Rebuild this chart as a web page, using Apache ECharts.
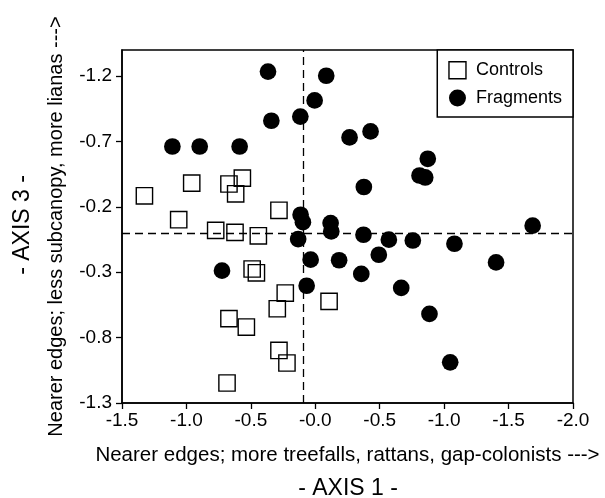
<!DOCTYPE html>
<html>
<head>
<meta charset="utf-8">
<script src="https://cdn.jsdelivr.net/npm/echarts@6/dist/echarts.min.js"></script>
<style>
  html, body { margin: 0; padding: 0; background: #fff; }
  #chart { width: 605px; height: 498px; }
</style>
</head>
<body>
<div id="chart"></div>
<script>
// ---- data ----
const categories = ['Controls', 'Fragments'];

const controlsX = [-1.326, -0.959, -0.670, -0.566, -0.618, -0.282, -1.060, -0.773, -0.623, -0.442,
                   -0.490, -0.457, -0.233, -0.295, -0.670, -0.535, -0.282, -0.220, -0.685, 0.107];
const controlsY = [0.285, 0.382, 0.375, 0.420, 0.300, 0.174, 0.102, 0.020, 0.005, -0.021,
                   -0.275, -0.304, -0.459, -0.579, -0.655, -0.719, -0.898, -0.994, -1.147, -0.523];

const fragmentsX = [-0.367, 0.085, -0.005, -0.341, -0.116, 0.266, 0.429, -1.109, -0.897, -0.587,
                    0.873, 0.809, 0.853, 0.377, -0.114, -0.096, 0.119, 0.124, -0.133, 0.374,
                    0.571, 0.757, 1.080, 1.687, -0.036, 0.185, 0.493, 0.357, 1.403, -0.067,
                    0.667, 0.886, 1.047, -0.724];
const fragmentsY = [1.235, 1.203, 1.014, 0.859, 0.891, 0.731, 0.777, 0.662, 0.662, 0.662,
                    0.568, 0.440, 0.425, 0.352, 0.140, 0.083, 0.076, 0.012, -0.046, -0.013,
                    -0.051, -0.057, -0.082, 0.056, -0.204, -0.208, -0.166, -0.313, -0.225, -0.403,
                    -0.420, -0.619, -0.989, -0.288];

const xTickValues = [-1.5, -1.0, -0.5, 0.0, 0.5, 1.0, 1.5, 2.0];
const xTickLabels = ['-1.5', '-1.0', '-0.5', '-0.0', '-0.5', '-1.0', '-1.5', '-2.0'];
const yTickValues = [-1.3, -0.8, -0.3, 0.2, 0.7, 1.2];
const yTickLabels = ['-1.3', '-0.8', '-0.3', '-0.2', '-0.7', '-1.2'];

const refLineX = -0.09;
const refLineY = 0;

const xTitle = 'Nearer edges; more treefalls, rattans, gap-colonists --->';
const yTitle = 'Nearer edges; less subcanopy, more lianas --->';
const xAxisLabel = '- AXIS 1 -';
const yAxisLabel = '- AXIS 3 -';

// ---- chart ----
const FONT = '"Liberation Sans", Arial, Helvetica, sans-serif';

function lookup(values, labels, v) {
  for (let i = 0; i < values.length; i++) {
    if (Math.abs(values[i] - v) < 1e-6) return labels[i];
  }
  return '';
}

const chart = echarts.init(document.getElementById('chart'), null, { renderer: 'canvas' });

const option = {
  animation: false,
  backgroundColor: '#fff',
  textStyle: { fontFamily: FONT, color: '#000' },
  grid: {
    left: 122, right: 32, top: 50, bottom: 95,
    show: true, borderColor: '#000', borderWidth: 1.5, backgroundColor: 'transparent'
  },
  legend: {
    data: categories.map(function (c, i) {
      return i === 0
        ? { name: c, itemStyle: { color: 'transparent', borderColor: '#000', borderWidth: 1.4 } }
        : { name: c, itemStyle: { color: '#000', borderWidth: 0 } };
    }),
    orient: 'vertical',
    right: 32,
    top: 50,
    padding: [11, 11, 10, 11],
    itemGap: 9.5,
    itemWidth: 17,
    itemHeight: 17,
    borderColor: '#000',
    borderWidth: 1.5,
    backgroundColor: '#fff',
    selectedMode: false,
    textStyle: { fontSize: 18, color: '#000', fontFamily: FONT, padding: [0, 0, 0, 5] }
  },
  xAxis: {
    type: 'value',
    min: -1.5, max: 2.0, interval: 0.5,
    name: xTitle,
    nameLocation: 'middle',
    nameGap: 42,
    nameTextStyle: { fontSize: 20.5, color: '#000', fontFamily: FONT },
    axisLine: { onZero: false, lineStyle: { color: '#000', width: 1.5 } },
    axisTick: { show: true, inside: false, length: 6, lineStyle: { color: '#000', width: 1.3 } },
    axisLabel: {
      fontSize: 19, color: '#000', fontFamily: FONT, margin: 8,
      formatter: function (v) { return lookup(xTickValues, xTickLabels, v); }
    },
    splitLine: { show: false }
  },
  yAxis: {
    type: 'value',
    min: -1.3, max: 1.4,
    name: yTitle,
    nameLocation: 'middle',
    nameRotate: 90,
    nameGap: 56,
    nameTextStyle: { fontSize: 20, color: '#000', fontFamily: FONT },
    axisLine: { onZero: false, lineStyle: { color: '#000', width: 1.5 } },
    axisTick: { show: true, inside: false, length: 6, customValues: yTickValues, lineStyle: { color: '#000', width: 1.3 } },
    axisLabel: {
      fontSize: 19, color: '#000', fontFamily: FONT, margin: 10,
      customValues: yTickValues,
      formatter: function (v) { return lookup(yTickValues, yTickLabels, v); }
    },
    splitLine: { show: false }
  },
  graphic: [
    {
      type: 'text', x: 348, y: 489, silent: true,
      style: { text: xAxisLabel, font: '23px ' + FONT, fill: '#000', textAlign: 'center', textVerticalAlign: 'middle' }
    },
    {
      type: 'text', x: 23, y: 225, rotation: Math.PI / 2, silent: true,
      style: { text: yAxisLabel, font: '23px ' + FONT, fill: '#000', textAlign: 'center', textVerticalAlign: 'middle' }
    }
  ],
  series: [
    {
      name: 'ref',
      type: 'scatter',
      data: [],
      z: 1,
      markLine: {
        silent: true,
        symbol: ['none', 'none'],
        label: { show: false },
        animation: false,
        lineStyle: { color: '#000', type: [8, 5], width: 1.3 },
        emphasis: { disabled: true },
        data: [{ xAxis: refLineX }, { yAxis: refLineY }]
      }
    },
    {
      name: categories[0],
      type: 'scatter',
      symbol: 'rect',
      symbolSize: 16.3,
      z: 3,
      data: controlsX.map(function (x, i) { return [x, controlsY[i]]; }),
      itemStyle: { color: 'transparent', borderColor: '#000', borderWidth: 1.4, opacity: 1 },
      emphasis: { disabled: true }
    },
    {
      name: categories[1],
      type: 'scatter',
      symbol: 'circle',
      symbolSize: 16.7,
      z: 4,
      data: fragmentsX.map(function (x, i) { return [x, fragmentsY[i]]; }),
      itemStyle: { color: '#000', opacity: 1 },
      emphasis: { disabled: true }
    }
  ]
};

chart.setOption(option);
</script>
</body>
</html>
